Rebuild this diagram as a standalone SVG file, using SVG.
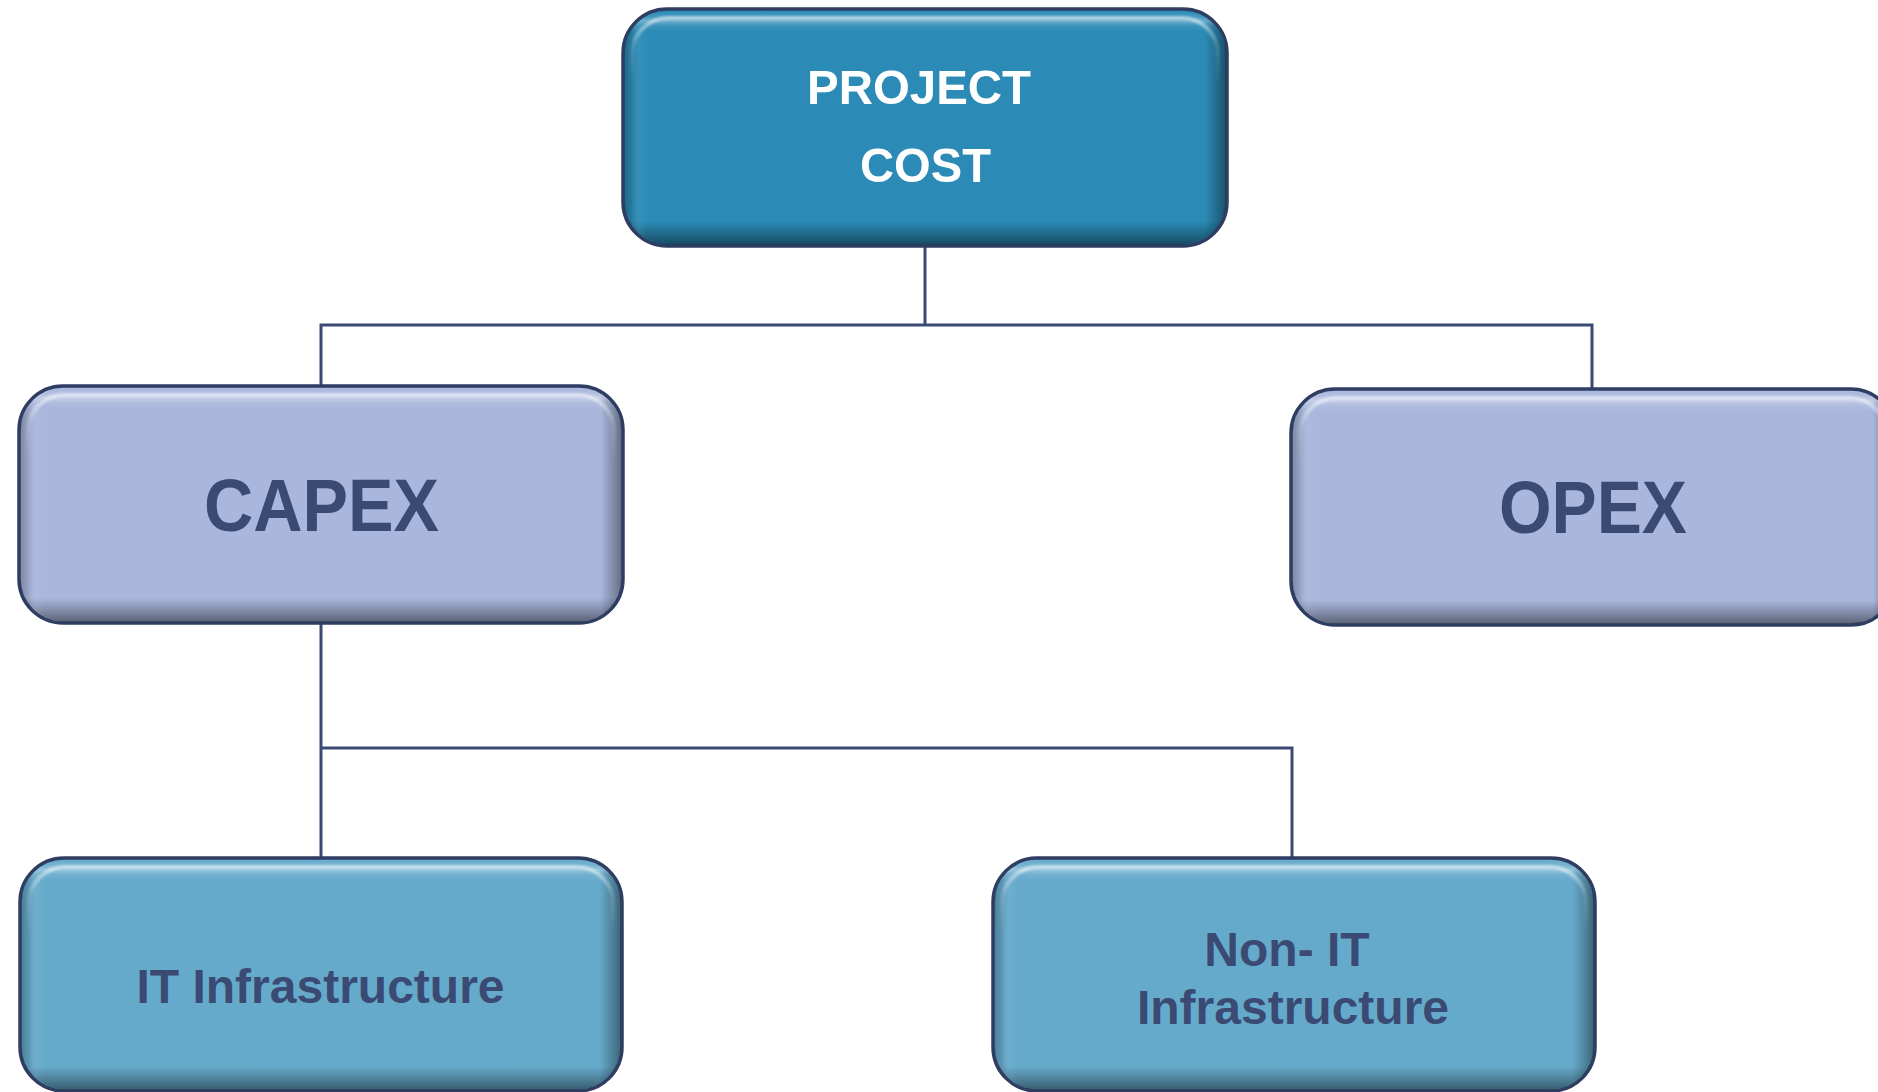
<svg xmlns="http://www.w3.org/2000/svg" width="1878" height="1092" viewBox="0 0 1878 1092">
  <defs>
    <linearGradient id="bevV" x1="0" y1="0" x2="0" y2="1">
      <stop offset="0" stop-color="#ffffff" stop-opacity="0"/>
      <stop offset="0.025" stop-color="#ffffff" stop-opacity="0.1"/>
      <stop offset="0.045" stop-color="#ffffff" stop-opacity="0.3"/>
      <stop offset="0.065" stop-color="#ffffff" stop-opacity="0.08"/>
      <stop offset="0.09" stop-color="#ffffff" stop-opacity="0"/>
      <stop offset="0.9" stop-color="#000000" stop-opacity="0"/>
      <stop offset="0.95" stop-color="#000000" stop-opacity="0.22"/>
      <stop offset="1" stop-color="#000000" stop-opacity="0.45"/>
    </linearGradient>
    <linearGradient id="bevH" x1="0" y1="0" x2="1" y2="0">
      <stop offset="0" stop-color="#000000" stop-opacity="0.25"/>
      <stop offset="0.012" stop-color="#000000" stop-opacity="0.12"/>
      <stop offset="0.025" stop-color="#ffffff" stop-opacity="0.05"/>
      <stop offset="0.04" stop-color="#ffffff" stop-opacity="0"/>
      <stop offset="0.965" stop-color="#000000" stop-opacity="0"/>
      <stop offset="0.985" stop-color="#000000" stop-opacity="0.22"/>
      <stop offset="1" stop-color="#000000" stop-opacity="0.4"/>
    </linearGradient>
    <linearGradient id="hiV" x1="0" y1="0" x2="0" y2="1">
      <stop offset="0" stop-color="#ffffff" stop-opacity="0.55"/>
      <stop offset="0.12" stop-color="#ffffff" stop-opacity="0.15"/>
      <stop offset="0.3" stop-color="#ffffff" stop-opacity="0"/>
    </linearGradient>
    <filter id="soft" x="-5%" y="-5%" width="110%" height="110%">
      <feGaussianBlur stdDeviation="1.2"/>
    </filter>
  </defs>
  <style>
    .box { stroke: #2E3D61; stroke-width: 3.5; }
    .top { fill: #2B8BB6; }
    .mid { fill: #A9B7DC; }
    .low { fill: #66AACB; }
    .bv { fill: url(#bevV); stroke: none; }
    .bh { fill: url(#bevH); stroke: none; }
    .hi { fill: none; stroke: url(#hiV); stroke-width: 4; filter: url(#soft); }
    .conn { fill: none; stroke: #3A4A73; stroke-width: 3; }
    text { font-family: "Liberation Sans", Arial, sans-serif; font-weight: bold; text-anchor: middle; }
    .wt { fill: #ffffff; font-size: 49px; }
    .big { fill: #3A4A73; font-size: 74px; }
    .sm { fill: #3A4A73; font-size: 48px; }
  </style>
  <rect width="1878" height="1092" fill="#ffffff"/>

  <g id="connectors">
    <path class="conn" d="M925 246 V325 M321 386 V325 H1592 V389"/>
    <path class="conn" d="M321 623 V859 M321 748 H1292 V859"/>
  </g>

  <g id="node-project-cost">
    <rect class="box top" x="623" y="9" width="604" height="237" rx="44"/>
    <rect class="bv" x="624.5" y="10.5" width="601" height="234" rx="43"/>
    <rect class="bh" x="624.5" y="10.5" width="601" height="234" rx="43"/>
    <rect class="hi" x="632" y="18" width="586" height="219" rx="36"/>
    <text class="wt" x="919" y="104" textLength="224" lengthAdjust="spacingAndGlyphs">PROJECT</text>
    <text class="wt" x="925.5" y="182" textLength="131" lengthAdjust="spacingAndGlyphs">COST</text>
  </g>

  <g id="node-capex">
    <rect class="box mid" x="19" y="386" width="604" height="237" rx="44"/>
    <rect class="bv" x="20.5" y="387.5" width="601" height="234" rx="43"/>
    <rect class="bh" x="20.5" y="387.5" width="601" height="234" rx="43"/>
    <rect class="hi" x="28" y="395" width="586" height="219" rx="36"/>
    <text class="big" x="321.5" y="531" textLength="235" lengthAdjust="spacingAndGlyphs">CAPEX</text>
  </g>

  <g id="node-opex">
    <rect class="box mid" x="1291" y="389" width="604" height="236" rx="44"/>
    <rect class="bv" x="1292.5" y="390.5" width="601" height="233" rx="43"/>
    <rect class="bh" x="1292.5" y="390.5" width="601" height="233" rx="43"/>
    <rect class="hi" x="1300" y="398" width="586" height="218" rx="36"/>
    <text class="big" x="1593" y="533" textLength="188" lengthAdjust="spacingAndGlyphs">OPEX</text>
  </g>

  <g id="node-it-infrastructure">
    <rect class="box low" x="20" y="858" width="602" height="233" rx="44"/>
    <rect class="bv" x="21.5" y="859.5" width="599" height="230" rx="43"/>
    <rect class="bh" x="21.5" y="859.5" width="599" height="230" rx="43"/>
    <rect class="hi" x="29" y="867" width="584" height="215" rx="36"/>
    <text class="sm" x="320.5" y="1003">IT Infrastructure</text>
  </g>

  <g id="node-non-it-infrastructure">
    <rect class="box low" x="993" y="858" width="602" height="233" rx="44"/>
    <rect class="bv" x="994.5" y="859.5" width="599" height="230" rx="43"/>
    <rect class="bh" x="994.5" y="859.5" width="599" height="230" rx="43"/>
    <rect class="hi" x="1002" y="867" width="584" height="215" rx="36"/>
    <text class="sm" x="1287" y="966">Non- IT</text>
    <text class="sm" x="1293" y="1024">Infrastructure</text>
  </g>
</svg>
